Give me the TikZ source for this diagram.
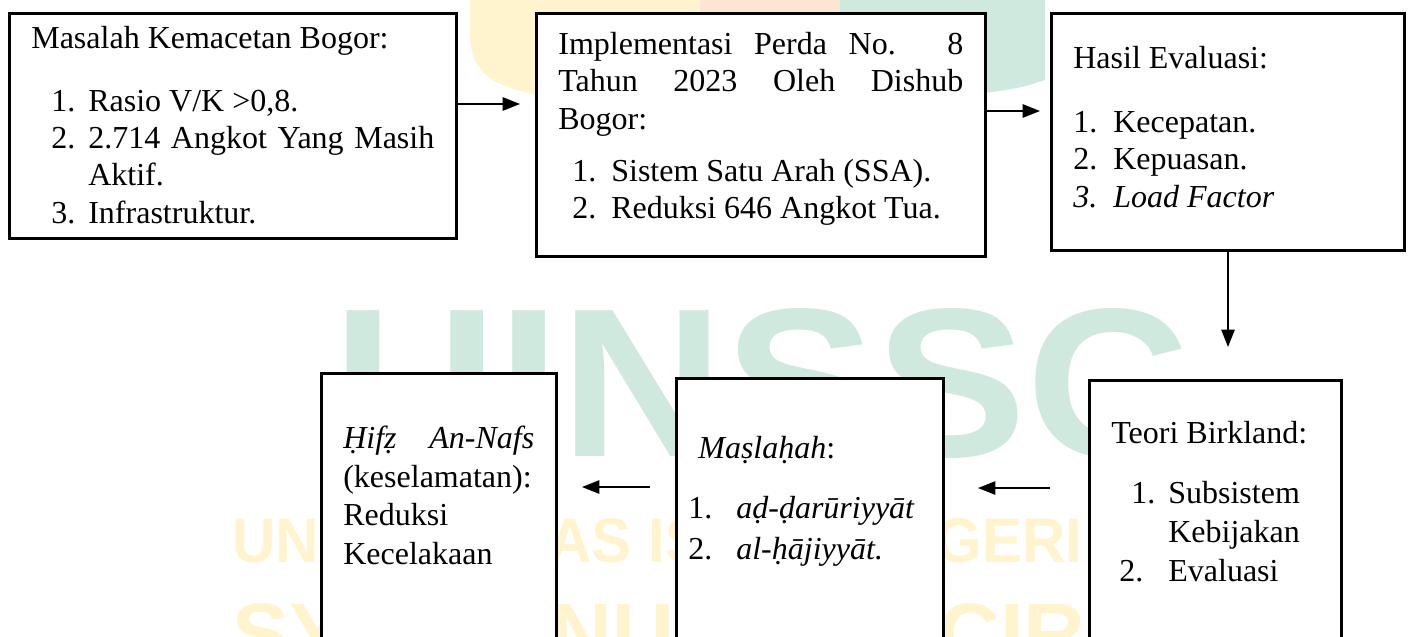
\documentclass[tikz,border=0pt]{standalone}
\usepackage{fontspec}
\setmainfont{Liberation Serif}
\newfontfamily\wmfont{Liberation Sans}
\usepackage{graphicx}
\usetikzlibrary{arrows.meta}
\definecolor{wmgreen}{RGB}{208,233,223}
\definecolor{wmyellow}{RGB}{255,244,206}
\definecolor{wmorange}{RGB}{252,230,210}
\newcommand{\numline}[4]{\par\hangindent=#2\hangafter=1\noindent\hspace*{#1}\makebox[\dimexpr#2-#1\relax][l]{#3}#4}
\newcommand{\topgap}[1]{\rule{0pt}{#1}}
\newcommand{\botgap}[1]{\rule[-#1]{0pt}{#1}}
\newcommand{\noparindent}{\setlength{\parindent}{0pt}}

\begin{document}
\begin{tikzpicture}[x=0.375pt,y=-0.375pt]
	\tikzstyle{box}=[draw,line width=1pt,fill=white,anchor=north west,inner xsep=8.25pt,inner ysep=0pt,align=justify,font=\fontsize{12}{14}\selectfont,execute at begin node=\noparindent]
	\tikzstyle{lowbox}=[box,font=\fontsize{12}{14.6}\selectfont]
	\tikzstyle{arr}=[-{Triangle[length=6.5pt,width=5pt]},line width=0.6pt]
	\tikzstyle{wm}=[inner sep=0pt,anchor=north west]
	
	\useasboundingbox (0,0) rectangle (1410,636);
	\clip (0,0) rectangle (1410,636);
	
	% watermark
	\fill[wmyellow] (470,-5) -- (470,40) .. controls (474,80) and (500,88) .. (560,100) -- (700,100) -- (700,-5) -- cycle;
	\fill[wmorange] (700,-5) rectangle (840,100);
	\fill[wmgreen] (840,-5) -- (1045,-5) -- (1045,80) .. controls (1020,88) .. (985,93) -- (840,100) -- cycle;
	\node[wm,text=wmgreen] (uinssc) at (333,308) {\resizebox{321.4pt}{55.5pt}{\wmfont\bfseries UINSSC}};
	\node[wm,text=wmyellow] (univ) at (232,518) {\resizebox{318.75pt}{16.5pt}{\wmfont\bfseries UNIVERSITAS ISLAM NEGERI}};
	\node[wm,text=wmyellow] (syekh) at (232,603) {\resizebox{412.5pt}{22.5pt}{\wmfont\bfseries SYEKH NURJATI CIREBON}};
	
	\node[box,text width=151.125pt] (masalah) at (8,12) {\topgap{13.125pt}Masalah Kemacetan Bogor:\par\vspace{9.6pt}
		\numline{7.5pt}{21.375pt}{1.}{Rasio V/K >0,8.}
		\numline{7.5pt}{21.375pt}{2.}{2.714 Angkot Yang Masih\linebreak Aktif.}
		\numline{7.5pt}{21.375pt}{3.}{Infrastruktur.\botgap{5.625pt}}};
	\node[box,text width=151.875pt] (implementasi) at (535,12) {\topgap{15.375pt}Implementasi Perda No. 8\linebreak Tahun 2023 Oleh Dishub\linebreak Bogor:\par\vspace{5.7pt}
		\numline{5.25pt}{19.875pt}{1.}{Sistem Satu Arah (SSA).}
		\numline{5.25pt}{19.875pt}{2.}{Reduksi 646 Angkot Tua.\botgap{14.2pt}}};
	\node[box,text width=115.875pt] (hasil) at (1050,12) {\topgap{20.625pt}Hasil Evaluasi:\par\vspace{10pt}
		\numline{0pt}{15pt}{1.}{Kecepatan.}
		\numline{0pt}{15pt}{2.}{Kepuasan.}
		\numline{0pt}{15pt}{\itshape 3.}{\textit{Load Factor}\botgap{16.3pt}}};
	
	\node[lowbox,text width=78pt] (teori) at (1088,379) {\topgap{23.625pt}Teori Birkland:\par\vspace{7.9pt}
		\numline{7.5pt}{21.375pt}{1.}{Subsistem\hfill\break Kebijakan}
		\numline{3pt}{21.375pt}{2.}{Evaluasi\botgap{40pt}}};
	\node[lowbox,text width=91.125pt,inner xsep=4.5pt,font=\fontsize{12}{15.4}\selectfont] (maslahah) at (675,377) {\topgap{30pt}\hspace*{3.75pt}\textit{Maṣlaḥah}:\par\vspace{7.1pt}
		\numline{0pt}{18pt}{1.}{\textit{aḍ-ḍarūriyyāt}}
		\numline{0pt}{18pt}{2.}{\textit{al-ḥājiyyāt.}\botgap{40pt}}};
	\node[lowbox,text width=71.625pt,font=\fontsize{12}{14.5}\selectfont] (hifz) at (320,372) {\topgap{28.125pt}\textit{Ḥifẓ} \textit{An-Nafs}\linebreak (keselamatan):\hfill\break Reduksi\hfill\break Kecelakaan\botgap{40pt}};
	
	\coordinate (a1) at (520,104);
	\coordinate (a2) at (1040,111);
	\coordinate (a3) at (1228,347);
	\coordinate (a4s) at (1050,488);
	\coordinate (a4e) at (978,488);
	\coordinate (a5s) at (650,487);
	\coordinate (a5e) at (582,487);
	\draw[arr] (masalah.east |- a1) -- (a1);
	\draw[arr] (implementasi.east |- a2) -- (a2);
	\draw[arr] (a3 |- hasil.south) -- (a3);
	\draw[arr] (a4s) -- (a4e);
	\draw[arr] (a5s) -- (a5e);
\end{tikzpicture}
\end{document}
